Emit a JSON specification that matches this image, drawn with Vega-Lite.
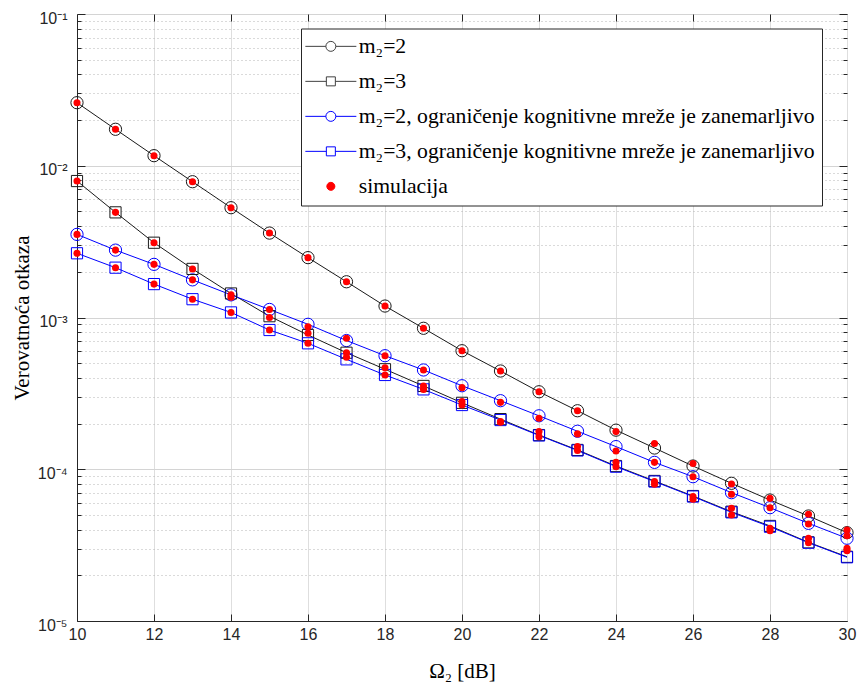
{
  "$schema": "https://vega.github.io/schema/vega-lite/v6.json",
  "width": 770,
  "height": 607,
  "autosize": "none",
  "padding": {"left": 77, "top": 14, "right": 10, "bottom": 66},
  "background": "white",
  "config": {
    "view": {"stroke": "#262626", "strokeWidth": 1},
    "axis": {
      "labelFont": "Liberation Sans",
      "labelFontSize": 16,
      "labelColor": "#262626",
      "titleFont": "Liberation Serif",
      "titleFontSize": 21,
      "titleFontWeight": "normal",
      "titleColor": "#000000",
      "tickColor": "#262626",
      "domainColor": "#262626",
      "tickWidth": 1,
      "domainWidth": 1,
      "labelFlush": false
    }
  },
  "datasets": {
    "curves": [
      {"x":10,"p":0.02603,"s":"A"},{"x":11,"p":0.01739,"s":"A"},{"x":12,"p":0.01165,"s":"A"},{"x":13,"p":0.00785,"s":"A"},{"x":14,"p":0.00529,"s":"A"},{"x":15,"p":0.0036,"s":"A"},{"x":16,"p":0.00248,"s":"A"},{"x":17,"p":0.00172,"s":"A"},{"x":18,"p":0.00119,"s":"A"},{"x":19,"p":0.000849,"s":"A"},{"x":20,"p":0.000604,"s":"A"},{"x":21,"p":0.000444,"s":"A"},{"x":22,"p":0.000324,"s":"A"},{"x":23,"p":0.000243,"s":"A"},{"x":24,"p":0.000181,"s":"A"},{"x":25,"p":0.000138,"s":"A"},{"x":26,"p":0.000105,"s":"A"},{"x":27,"p":0.0000808,"s":"A"},{"x":28,"p":0.0000627,"s":"A"},{"x":29,"p":0.0000492,"s":"A"},{"x":30,"p":0.0000382,"s":"A"},
      {"x":10,"p":0.00793,"s":"B"},{"x":11,"p":0.00493,"s":"B"},{"x":12,"p":0.00311,"s":"B"},{"x":13,"p":0.00209,"s":"B"},{"x":14,"p":0.00144,"s":"B"},{"x":15,"p":0.00102,"s":"B"},{"x":16,"p":0.000767,"s":"B"},{"x":17,"p":0.000586,"s":"B"},{"x":18,"p":0.000456,"s":"B"},{"x":19,"p":0.000354,"s":"B"},{"x":20,"p":0.000274,"s":"B"},{"x":21,"p":0.000214,"s":"B"},{"x":22,"p":0.000168,"s":"B"},{"x":23,"p":0.000134,"s":"B"},{"x":24,"p":0.000105,"s":"B"},{"x":25,"p":0.0000837,"s":"B"},{"x":26,"p":0.0000666,"s":"B"},{"x":27,"p":0.0000525,"s":"B"},{"x":28,"p":0.0000423,"s":"B"},{"x":29,"p":0.000033,"s":"B"},{"x":30,"p":0.0000265,"s":"B"},
      {"x":10,"p":0.00353,"s":"C"},{"x":11,"p":0.00278,"s":"C"},{"x":12,"p":0.00224,"s":"C"},{"x":13,"p":0.00177,"s":"C"},{"x":14,"p":0.00141,"s":"C"},{"x":15,"p":0.00113,"s":"C"},{"x":16,"p":0.000902,"s":"C"},{"x":17,"p":0.000705,"s":"C"},{"x":18,"p":0.00056,"s":"C"},{"x":19,"p":0.000451,"s":"C"},{"x":20,"p":0.000355,"s":"C"},{"x":21,"p":0.000283,"s":"C"},{"x":22,"p":0.000225,"s":"C"},{"x":23,"p":0.000178,"s":"C"},{"x":24,"p":0.000141,"s":"C"},{"x":25,"p":0.000111,"s":"C"},{"x":26,"p":0.0000893,"s":"C"},{"x":27,"p":0.0000701,"s":"C"},{"x":28,"p":0.0000558,"s":"C"},{"x":29,"p":0.000044,"s":"C"},{"x":30,"p":0.0000351,"s":"C"},
      {"x":10,"p":0.00265,"s":"D"},{"x":11,"p":0.00213,"s":"D"},{"x":12,"p":0.00166,"s":"D"},{"x":13,"p":0.00132,"s":"D"},{"x":14,"p":0.00108,"s":"D"},{"x":15,"p":0.000827,"s":"D"},{"x":16,"p":0.000676,"s":"D"},{"x":17,"p":0.00053,"s":"D"},{"x":18,"p":0.000418,"s":"D"},{"x":19,"p":0.000336,"s":"D"},{"x":20,"p":0.000265,"s":"D"},{"x":21,"p":0.000211,"s":"D"},{"x":22,"p":0.000167,"s":"D"},{"x":23,"p":0.000133,"s":"D"},{"x":24,"p":0.000104,"s":"D"},{"x":25,"p":0.000083,"s":"D"},{"x":26,"p":0.0000661,"s":"D"},{"x":27,"p":0.000052,"s":"D"},{"x":28,"p":0.0000418,"s":"D"},{"x":29,"p":0.0000328,"s":"D"},{"x":30,"p":0.0000263,"s":"D"}
    ],
    "sims": [
      {"x":10,"p":0.02603,"s":"A"},{"x":11,"p":0.01739,"s":"A"},{"x":12,"p":0.01165,"s":"A"},{"x":13,"p":0.00785,"s":"A"},{"x":14,"p":0.00529,"s":"A"},{"x":15,"p":0.0036,"s":"A"},{"x":16,"p":0.00248,"s":"A"},{"x":17,"p":0.00172,"s":"A"},{"x":18,"p":0.00119,"s":"A"},{"x":19,"p":0.000849,"s":"A"},{"x":20,"p":0.000604,"s":"A"},{"x":21,"p":0.000444,"s":"A"},{"x":22,"p":0.000324,"s":"A"},{"x":23,"p":0.000243,"s":"A"},{"x":24,"p":0.000177,"s":"A"},{"x":25,"p":0.000148,"s":"A"},{"x":26,"p":0.000109,"s":"A"},{"x":27,"p":0.00008,"s":"A"},{"x":28,"p":0.0000643,"s":"A"},{"x":29,"p":0.0000505,"s":"A"},{"x":30,"p":0.0000398,"s":"A"},
      {"x":10,"p":0.00793,"s":"B"},{"x":11,"p":0.00493,"s":"B"},{"x":12,"p":0.00311,"s":"B"},{"x":13,"p":0.00209,"s":"B"},{"x":14,"p":0.00136,"s":"B"},{"x":15,"p":0.001,"s":"B"},{"x":16,"p":0.000787,"s":"B"},{"x":17,"p":0.000586,"s":"B"},{"x":18,"p":0.000467,"s":"B"},{"x":19,"p":0.000354,"s":"B"},{"x":20,"p":0.000279,"s":"B"},{"x":21,"p":0.000204,"s":"B"},{"x":22,"p":0.000177,"s":"B"},{"x":23,"p":0.000141,"s":"B"},{"x":24,"p":0.000111,"s":"B"},{"x":25,"p":0.0000796,"s":"B"},{"x":26,"p":0.0000634,"s":"B"},{"x":27,"p":0.0000553,"s":"B"},{"x":28,"p":0.0000408,"s":"B"},{"x":29,"p":0.0000351,"s":"B"},{"x":30,"p":0.0000301,"s":"B"},
      {"x":10,"p":0.00353,"s":"C"},{"x":11,"p":0.00278,"s":"C"},{"x":12,"p":0.00224,"s":"C"},{"x":13,"p":0.00177,"s":"C"},{"x":14,"p":0.00141,"s":"C"},{"x":15,"p":0.00113,"s":"C"},{"x":16,"p":0.00087,"s":"C"},{"x":17,"p":0.000729,"s":"C"},{"x":18,"p":0.00056,"s":"C"},{"x":19,"p":0.000451,"s":"C"},{"x":20,"p":0.000345,"s":"C"},{"x":21,"p":0.000276,"s":"C"},{"x":22,"p":0.000217,"s":"C"},{"x":23,"p":0.000171,"s":"C"},{"x":24,"p":0.000132,"s":"C"},{"x":25,"p":0.000111,"s":"C"},{"x":26,"p":0.0000893,"s":"C"},{"x":27,"p":0.0000684,"s":"C"},{"x":28,"p":0.0000558,"s":"C"},{"x":29,"p":0.0000436,"s":"C"},{"x":30,"p":0.0000365,"s":"C"},
      {"x":10,"p":0.00265,"s":"D"},{"x":11,"p":0.00213,"s":"D"},{"x":12,"p":0.00166,"s":"D"},{"x":13,"p":0.00132,"s":"D"},{"x":14,"p":0.00108,"s":"D"},{"x":15,"p":0.000827,"s":"D"},{"x":16,"p":0.000676,"s":"D"},{"x":17,"p":0.000547,"s":"D"},{"x":18,"p":0.000418,"s":"D"},{"x":19,"p":0.000336,"s":"D"},{"x":20,"p":0.000265,"s":"D"},{"x":21,"p":0.000206,"s":"D"},{"x":22,"p":0.000164,"s":"D"},{"x":23,"p":0.000133,"s":"D"},{"x":24,"p":0.000104,"s":"D"},{"x":25,"p":0.000083,"s":"D"},{"x":26,"p":0.0000661,"s":"D"},{"x":27,"p":0.0000499,"s":"D"},{"x":28,"p":0.0000394,"s":"D"},{"x":29,"p":0.0000328,"s":"D"},{"x":30,"p":0.000029,"s":"D"}
    ]
  },
  "layer": [
    {
      "data": {"name": "curves"},
      "mark": {"type": "line", "strokeWidth": 1},
      "encoding": {
        "x": {"field": "x", "type": "quantitative",
          "scale": {"domain": [10, 30], "nice": false, "zero": false},
          "axis": {"orient": "bottom", "values": [10,12,14,16,18,20,22,24,26,28,30], "grid": true, "gridColor": "#dedede", "gridWidth": 1, "ticks": false, "tickSize": 0, "labelPadding": 5, "title": "Ω₂ [dB]", "titlePadding": 18}},
        "y": {"field": "p", "type": "quantitative",
          "scale": {"type": "log", "domain": [0.00001, 0.1], "nice": false},
          "axis": {"orient": "left", "values": [0.00001, 0.0001, 0.001, 0.01, 0.1], "grid": true, "gridColor": "#d4d4d4", "gridWidth": 1, "ticks": false, "tickSize": 0, "labelPadding": 10, "labelOffset": 4,
            "labelExpr": "datum.value > 0.05 ? '10⁻¹' : datum.value > 0.005 ? '10⁻²' : datum.value > 0.0005 ? '10⁻³' : datum.value > 0.00005 ? '10⁻⁴' : '10⁻⁵'",
            "title": "Verovatnoća otkaza", "titlePadding": 5}},
        "color": {"field": "s", "type": "nominal",
          "scale": {"domain": ["A", "B", "C", "D"], "range": ["#1a1a1a", "#1a1a1a", "#0000ff", "#0000ff"]},
          "legend": null}
      }
    },
    {
      "data": {"name": "curves"},
      "transform": [{"filter": "datum.s == 'A' || datum.s == 'C'"}],
      "mark": {"type": "point", "shape": "circle", "filled": false, "size": 150, "strokeWidth": 1, "opacity": 1},
      "encoding": {
        "x": {"field": "x", "type": "quantitative",
          "axis": {"orient": "bottom", "values": [12,14,16,18,20,22,24,26,28], "grid": false, "tickSize": -7, "labels": false, "domain": false, "title": null}},
        "y": {"field": "p", "type": "quantitative",
          "axis": {"orient": "left", "values": [0.00002,0.00003,0.00004,0.00005,0.00006,0.00007,0.00008,0.00009,0.0002,0.0003,0.0004,0.0005,0.0006,0.0007,0.0008,0.0009,0.002,0.003,0.004,0.005,0.006,0.007,0.008,0.009,0.02,0.03,0.04,0.05,0.06,0.07,0.08,0.09],
            "grid": true, "gridDash": [1, 3], "gridColor": "#b5b5b5", "gridWidth": 1, "tickSize": -4, "labels": false, "domain": false, "title": null}},
        "color": {"field": "s", "type": "nominal", "legend": null}
      }
    },
    {
      "data": {"name": "curves"},
      "transform": [{"filter": "datum.s == 'B' || datum.s == 'D'"}],
      "mark": {"type": "point", "shape": "square", "filled": false, "size": 125, "strokeWidth": 1, "opacity": 1},
      "encoding": {
        "x": {"field": "x", "type": "quantitative",
          "axis": {"orient": "top", "values": [12,14,16,18,20,22,24,26,28], "grid": false, "tickSize": -7, "labels": false, "domain": false, "title": null}},
        "y": {"field": "p", "type": "quantitative",
          "axis": {"orient": "left", "values": [0.00001, 0.0001, 0.001, 0.01, 0.1], "grid": false, "tickSize": -8, "labels": false, "domain": false, "title": null}},
        "color": {"field": "s", "type": "nominal", "legend": null}
      }
    },
    {
      "data": {"name": "sims"},
      "mark": {"type": "circle", "size": 50, "color": "#ff0000", "opacity": 1},
      "encoding": {
        "x": {"field": "x", "type": "quantitative", "axis": null},
        "y": {"field": "p", "type": "quantitative",
          "axis": {"orient": "right", "values": [0.00002,0.00003,0.00004,0.00005,0.00006,0.00007,0.00008,0.00009,0.0002,0.0003,0.0004,0.0005,0.0006,0.0007,0.0008,0.0009,0.002,0.003,0.004,0.005,0.006,0.007,0.008,0.009,0.02,0.03,0.04,0.05,0.06,0.07,0.08,0.09],
            "grid": false, "tickSize": -4, "labels": false, "domain": false, "title": null}}
      }
    },
    {
      "data": {"name": "sims"},
      "transform": [{"filter": "datum.x < 0"}],
      "mark": {"type": "point", "opacity": 1, "strokeWidth": 1},
      "encoding": {
        "x": {"field": "x", "type": "quantitative", "axis": null},
        "y": {"field": "p", "type": "quantitative",
          "axis": {"orient": "right", "values": [0.00001, 0.0001, 0.001, 0.01, 0.1], "grid": false, "tickSize": -8, "labels": false, "domain": false, "title": null}},
        "shape": {"field": "label", "type": "nominal",
          "scale": {
            "domain": ["m₂=2", "m₂=3", "m₂=2, ograničenje kognitivne mreže je zanemarljivo", "m₂=3, ograničenje kognitivne mreže je zanemarljivo", "simulacija"],
            "range": [
              "M-4.25,0H-0.83M0.83,0H4.25M-0.83,0A0.83,0.83,0,1,0,0.83,0A0.83,0.83,0,1,0,-0.83,0Z",
              "M-4.25,0H-0.75M0.75,0H4.25M-0.75,-0.75H0.75V0.75H-0.75Z",
              "M-4.25,0H-0.83M0.83,0H4.25M-0.83,0A0.83,0.83,0,1,0,0.83,0A0.83,0.83,0,1,0,-0.83,0Z",
              "M-4.25,0H-0.75M0.75,0H4.25M-0.75,-0.75H0.75V0.75H-0.75Z",
              "M-0.67,0A0.67,0.67,0,1,0,0.67,0A0.67,0.67,0,1,0,-0.67,0Z"
            ]},
          "legend": {"orient": "none", "legendX": 224, "legendY": 14.5, "title": null, "symbolSize": 144, "symbolStrokeWidth": 1, "symbolOffset": 12, "labelOffset": 17, "labelFont": "Liberation Serif", "labelFontSize": 21.7, "labelColor": "#000000", "labelLimit": 0, "rowPadding": 12, "padding": 7, "strokeColor": "#262626", "fillColor": "#ffffff", "cornerRadius": 0,
            "encode": {"symbols": {"update": {"shape": {"scale": "shape", "field": "value"}}}}}},
        "stroke": {"field": "label", "type": "nominal",
          "scale": {
            "domain": ["m₂=2", "m₂=3", "m₂=2, ograničenje kognitivne mreže je zanemarljivo", "m₂=3, ograničenje kognitivne mreže je zanemarljivo", "simulacija"],
            "range": ["#404040", "#404040", "#0000ff", "#0000ff", "#ff0000"]},
          "legend": {"orient": "none", "legendX": 224, "legendY": 14.5, "title": null, "symbolSize": 144, "symbolStrokeWidth": 1, "symbolOffset": 12, "labelOffset": 17, "labelFont": "Liberation Serif", "labelFontSize": 21.7, "labelColor": "#000000", "labelLimit": 0, "rowPadding": 12, "padding": 7, "strokeColor": "#262626", "fillColor": "#ffffff", "cornerRadius": 0}},
        "fill": {"field": "label", "type": "nominal",
          "scale": {
            "domain": ["m₂=2", "m₂=3", "m₂=2, ograničenje kognitivne mreže je zanemarljivo", "m₂=3, ograničenje kognitivne mreže je zanemarljivo", "simulacija"],
            "range": ["#ffffff", "#ffffff", "#ffffff", "#ffffff", "#ff0000"]},
          "legend": {"orient": "none", "legendX": 224, "legendY": 14.5, "title": null, "symbolSize": 144, "symbolStrokeWidth": 1, "symbolOffset": 12, "labelOffset": 17, "labelFont": "Liberation Serif", "labelFontSize": 21.7, "labelColor": "#000000", "labelLimit": 0, "rowPadding": 12, "padding": 7, "strokeColor": "#262626", "fillColor": "#ffffff", "cornerRadius": 0}}
      }
    }
  ],
  "resolve": {"axis": {"x": "independent", "y": "independent"}}
}
